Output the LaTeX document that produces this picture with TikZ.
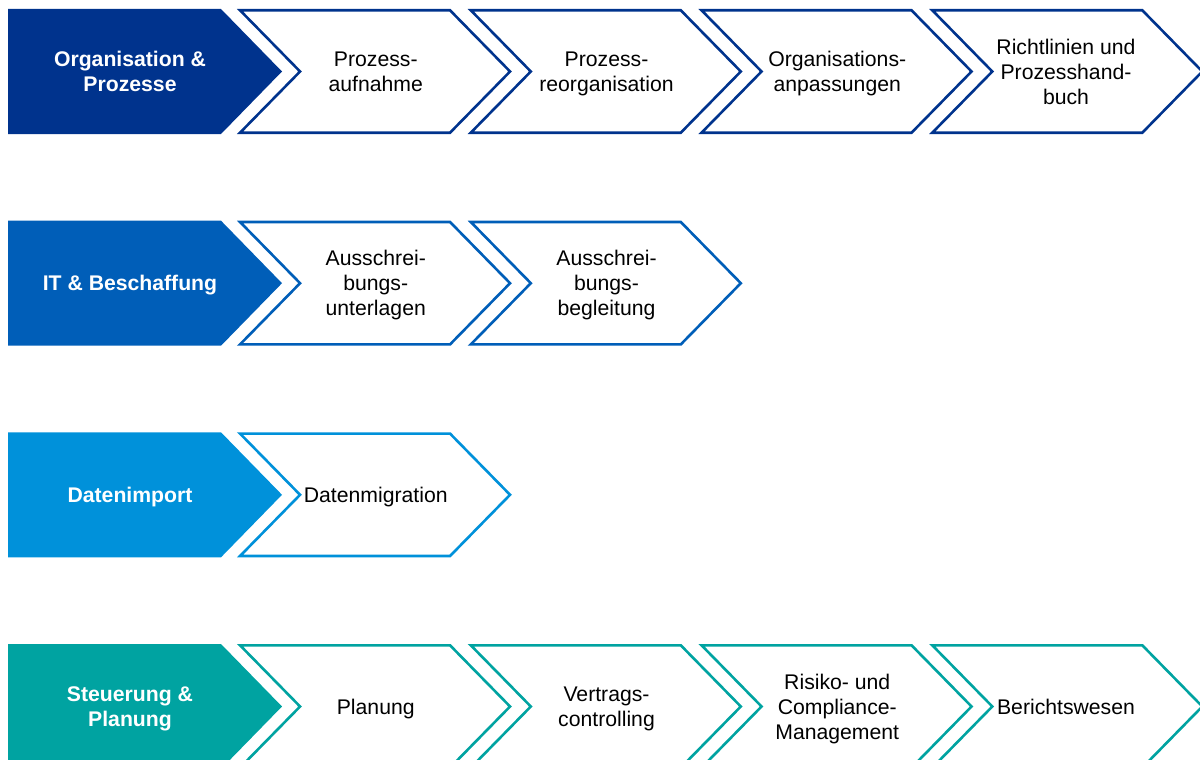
\documentclass[tikz,border=0pt]{standalone}
\usepackage{fontspec}
\setmainfont{Liberation Sans}
\definecolor{kdark}{HTML}{00338D}
\definecolor{kmed}{HTML}{005EB8}
\definecolor{klight}{HTML}{0091DA}
\definecolor{kteal}{HTML}{00A3A1}
\newcommand{\ls}{\rule[-4.9pt]{0pt}{25pt}}
\tikzset{
  headtext/.style={text=white, font=\fontsize{21.2}{25}\selectfont\bfseries, align=center, inner sep=0pt},
  boxtext/.style={text=black, font=\fontsize{21.2}{25}\selectfont, align=center, inner sep=0pt},
  chevline/.style={draw=#1, line width=2.6pt, fill=white, line join=miter},
}
\newcommand{\headchev}[3]{%
  \fill[#3] (#1,#2) -- ++(213,0) -- ++(61,62.5) -- ++(-61,62.5) -- ++(-213,0) -- cycle;}
\newcommand{\boxchev}[3]{%
  \draw[chevline=#3] ({#1+1.3},{#2+1.3}) -- ++(210,0) -- ++(60,61.2) -- ++(-60,61.2) -- ++(-210,0) -- ++(60,-61.2) -- cycle;}
\begin{document}
\begin{tikzpicture}[x=1pt,y=-1pt]
\useasboundingbox (0,0) rectangle (1200,760);
\clip (0,0) rectangle (1200,760);
% Row 1
\headchev{8}{9}{kdark}
\boxchev{238.75}{9}{kdark}
\boxchev{469.5}{9}{kdark}
\boxchev{700.25}{9}{kdark}
\boxchev{931}{9}{kdark}
\node[headtext] (h1) at (130,71.5) {\ls Organisation \&\\\ls Prozesse};
\node[boxtext] (b11) at (375.75,71.5) {\ls Prozess-\\\ls aufnahme};
\node[boxtext] (b12) at (606.5,71.5) {\ls Prozess-\\\ls reorganisation};
\node[boxtext] (b13) at (837.25,71.5) {\ls Organisations-\\\ls anpassungen};
\node[boxtext] (b14) at (1066,71.5) {\ls Richtlinien und\\\ls Prozesshand-\\\ls buch};
% Row 2
\headchev{8}{220.7}{kmed}
\boxchev{238.75}{220.7}{kmed}
\boxchev{469.5}{220.7}{kmed}
\node[headtext] (h2) at (130,283.2) {\ls IT \& Beschaffung};
\node[boxtext] (b21) at (375.75,283.2) {\ls Ausschrei-\\\ls bungs-\\\ls unterlagen};
\node[boxtext] (b22) at (606.5,283.2) {\ls Ausschrei-\\\ls bungs-\\\ls begleitung};
% Row 3
\headchev{8}{432.3}{klight}
\boxchev{238.75}{432.3}{klight}
\node[headtext] (h3) at (130,494.8) {\ls Datenimport};
\node[boxtext] (b31) at (375.75,494.8) {\ls Datenmigration};
% Row 4
\headchev{8}{644}{kteal}
\boxchev{238.75}{644}{kteal}
\boxchev{469.5}{644}{kteal}
\boxchev{700.25}{644}{kteal}
\boxchev{931}{644}{kteal}
\node[headtext] (h4) at (130,706.5) {\ls Steuerung \&\\\ls Planung};
\node[boxtext] (b41) at (375.75,706.5) {\ls Planung};
\node[boxtext] (b42) at (606.5,706.5) {\ls Vertrags-\\\ls controlling};
\node[boxtext] (b43) at (837.25,706.5) {\ls Risiko- und\\\ls Compliance-\\\ls Management};
\node[boxtext] (b44) at (1066,706.5) {\ls Berichtswesen};
\end{tikzpicture}
\end{document}
